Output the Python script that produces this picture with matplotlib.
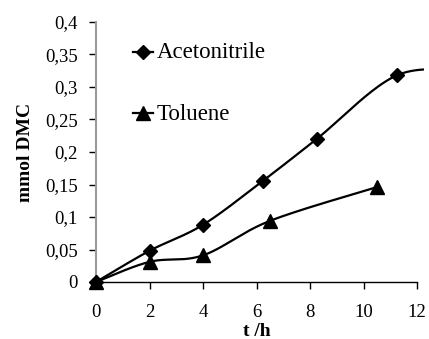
import numpy as np
import matplotlib
matplotlib.use("Agg")
import matplotlib.pyplot as plt
from matplotlib.lines import Line2D
from matplotlib.patches import Rectangle

# Data
acn_t = [0, 2, 4, 6.25, 8.25, 11.25]
acn_y = [0, 0.048, 0.088, 0.156, 0.220, 0.318]
acn_curve_end_t = [14.0]
acn_curve_end_y = [0.324]
tol_t = [0, 2, 4, 6.5, 10.5]
tol_y = [0, 0.031, 0.041, 0.094, 0.146]

xticks = [0, 2, 4, 6, 8, 10, 12]
yticks = [0, 0.05, 0.1, 0.15, 0.2, 0.25, 0.3, 0.35, 0.4]
ytick_labels = ["0", "0,05", "0,1", "0,15", "0,2", "0,25", "0,3", "0,35", "0,4"]
series_names = ["Acetonitrile", "Toluene"]

plt.rcParams['font.family'] = ['Liberation Serif', 'DejaVu Serif']

W, H = 429, 339


def smooth(xs, ys, sx=12.0, sy=0.4, n=40):
    # Catmull-Rom style Bezier smoothing (spreadsheet-like smoothed lines)
    P = np.column_stack([np.asarray(xs) / sx, np.asarray(ys) / sy])
    out = []
    for i in range(len(P) - 1):
        p0 = P[i - 1] if i > 0 else P[i]
        p1 = P[i]
        p2 = P[i + 1]
        p3 = P[i + 2] if i + 2 < len(P) else P[i + 1]
        c1 = p1 + (p2 - p0) / 6.0
        c2 = p2 - (p3 - p1) / 6.0
        t = np.linspace(0, 1, n)[:, None]
        b = (1 - t) ** 3 * p1 + 3 * (1 - t) ** 2 * t * c1 + 3 * (1 - t) * t ** 2 * c2 + t ** 3 * p2
        out.append(b if i == 0 else b[1:])
    B = np.vstack(out)
    return B[:, 0] * sx, B[:, 1] * sy


fig = plt.figure(figsize=(W / 100, H / 100), dpi=100)
ax = fig.add_axes([96 / W, (H - 282) / H, 321 / W, (282 - 22) / H])

clip = Rectangle((-1, -0.1), 13.25, 0.6, transform=ax.transData, visible=False)
ax.add_patch(clip)

cx, cy = smooth(acn_t + acn_curve_end_t, acn_y + acn_curve_end_y)
line, = ax.plot(cx, cy, color='black', lw=1.6)
line.set_clip_path(clip)
ax.plot(acn_t, acn_y, linestyle='none', marker='D', ms=7.5, color='black', clip_on=False, zorder=5)

tx, ty = smooth(tol_t, tol_y)
ax.plot(tx, ty, color='black', lw=1.6, clip_on=False)
ax.plot(tol_t, tol_y, linestyle='none', marker='^', ms=9.5, color='black', clip_on=False, zorder=5)

ax.set_xlim(0, 12)
ax.set_ylim(0, 0.4)
ax.set_xticks(xticks)
ax.set_yticks(yticks)
ax.set_yticklabels(ytick_labels)
ax.tick_params(axis='both', labelsize=13.5, colors='black', direction='out')
ax.tick_params(axis='x', length=5, width=1, pad=11)
ax.tick_params(axis='y', length=5, width=1, pad=8)
for s in ['top', 'right']:
    ax.spines[s].set_visible(False)
ax.spines['left'].set_color('#9a9a9a')
ax.spines['left'].set_linewidth(1.5)
ax.spines['bottom'].set_color('black')
ax.spines['bottom'].set_linewidth(1)

ax.set_xlabel('t /h', fontsize=14, fontweight='bold', labelpad=1)
ax.set_ylabel('mmol DMC', fontsize=14, fontweight='bold', labelpad=8)


def fx(px):
    return px / W


def fy(py):
    return 1 - py / H


leg_rows = [(52, 'D', 7.5), (113, '^', 9.5)]
for (py, mk, ms), name in zip(leg_rows, series_names):
    fig.add_artist(Line2D([fx(133), fx(153)], [fy(py), fy(py)], color='black', lw=1.6))
    fig.add_artist(Line2D([fx(143)], [fy(py)], marker=mk, ms=ms, color='black', linestyle='none'))
    fig.text(fx(157), fy(py + 1), name, fontsize=16.5, va='center', ha='left')

fig.savefig('out.png', dpi=100)
